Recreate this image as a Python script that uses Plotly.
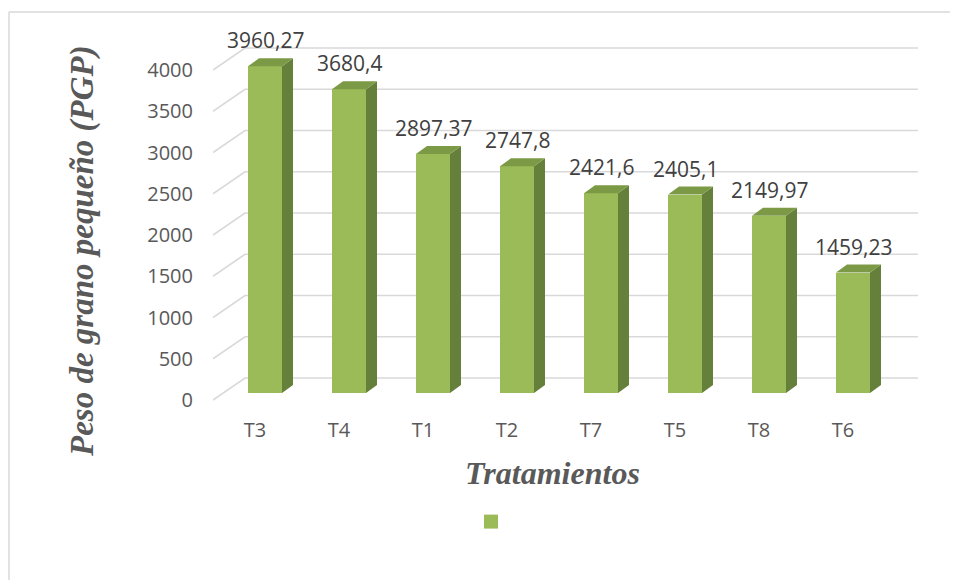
import plotly.graph_objects as go

# ---- data ----
categories = ["T3", "T4", "T1", "T2", "T7", "T5", "T8", "T6"]
values = [3960.27, 3680.4, 2897.37, 2747.8, 2421.6, 2405.1, 2149.97, 1459.23]
y_ticks = [0, 500, 1000, 1500, 2000, 2500, 3000, 3500, 4000]
y_title = "Peso de grano pequeño (PGP)"
x_title = "Tratamientos"

# ---- geometry (page-pixel targets; page body has an 8px margin) ----
OFF = 8
W, H = 958 - OFF, 580 - OFF          # figure fits the window without overflow
PL, PR, PT, PB = 213, 918, 44, 404   # plot area in page px
ZERO_PX = 400                        # page row of value 0 on front plane
PX = 84.0                            # px per category
PY = 330.0 / 4000.0                  # px per value unit

def dxu(p):
    return p / PX

def dyu(p):
    return p / PY

x_min = -0.5
x_max = x_min + dxu(PR - PL)
y_min = -dyu(PB - ZERO_PX)
y_max = dyu(ZERO_PX - PT)

def paper_x(p):
    return (p - PL) / (PR - PL)

def paper_y(p):
    return (PB - p) / (PB - PT)

FRONT = "#9BBB59"
SIDE = "#64803A"
TOP = "#7C9A46"
GRID = "#D9D9D9"
TXT = "#595959"

# 3D offsets
wall_dx, wall_dy = dxu(32), dyu(22)
bar_dx, bar_dy = dxu(10), dyu(7)
dep_dx, dep_dy = dxu(11), dyu(8)
hw = dxu(17)

fig = go.Figure()

# gridlines (shapes below traces)
shapes = []
for v in y_ticks:
    shapes.append(dict(
        type="path", xref="x", yref="y", layer="below",
        path=f"M {x_min},{v} L {x_min + wall_dx},{v + wall_dy} L {x_max},{v + wall_dy}",
        line=dict(color=GRID, width=1.6)))

# border of chart area (top and left edges visible)
shapes.append(dict(type="line", xref="paper", yref="paper",
                   x0=paper_x(9), x1=paper_x(1000), y0=paper_y(12), y1=paper_y(12),
                   line=dict(color=GRID, width=1.5), layer="below"))
shapes.append(dict(type="line", xref="paper", yref="paper",
                   x0=paper_x(9), x1=paper_x(9), y0=paper_y(12), y1=paper_y(620),
                   line=dict(color=GRID, width=1.5), layer="below"))

cx = [i + bar_dx for i in range(len(values))]
base = bar_dy

# front faces
fig.add_trace(go.Bar(x=cx, y=values, base=[base] * len(values), width=2 * hw,
                     marker=dict(color=FRONT, line=dict(width=0)),
                     name="", showlegend=False, hoverinfo="skip"))

# legend entry (series square)
fig.add_trace(go.Scatter(x=[None], y=[None], mode="markers", name="",
                         marker=dict(symbol="square", size=14, color=FRONT),
                         showlegend=True, hoverinfo="skip"))

# side faces and top faces
sx, sy, tx, ty = [], [], [], []
for c, v in zip(cx, values):
    y0, y1 = base, base + v
    sx += [c + hw, c + hw + dep_dx, c + hw + dep_dx, c + hw, c + hw, None]
    sy += [y0, y0 + dep_dy, y1 + dep_dy, y1, y0, None]
    tx += [c - hw, c + hw, c + hw + dep_dx, c - hw + dep_dx, c - hw, None]
    ty += [y1, y1, y1 + dep_dy, y1 + dep_dy, y1, None]

fig.add_trace(go.Scatter(x=sx, y=sy, mode="lines", fill="toself", fillcolor=SIDE,
                         line=dict(width=0, color=SIDE), showlegend=False, hoverinfo="skip"))
fig.add_trace(go.Scatter(x=tx, y=ty, mode="lines", fill="toself", fillcolor=TOP,
                         line=dict(width=0, color=TOP), showlegend=False, hoverinfo="skip"))

annotations = []
for c, v in zip(cx, values):
    annotations.append(dict(x=c, y=base + v, xref="x", yref="y", text=f"{v:g}".replace(".", ","),
                            showarrow=False, yanchor="middle", yshift=26,
                            font=dict(family="Open Sans", size=21, color="#404040")))

annotations.append(dict(x=paper_x(83), y=paper_y(251), xref="paper", yref="paper",
                        text=y_title, textangle=-90, showarrow=False,
                        xanchor="center", yanchor="middle",
                        font=dict(family="Liberation Serif", size=33, color=TXT,
                                  weight="bold", style="italic")))
annotations.append(dict(x=paper_x(552), y=paper_y(473), xref="paper", yref="paper",
                        text=x_title, showarrow=False,
                        xanchor="center", yanchor="middle",
                        font=dict(family="Liberation Serif", size=32, color=TXT,
                                  weight="bold", style="italic")))

fig.update_layout(
    width=W, height=H, autosize=False,
    margin=dict(l=PL - OFF, r=W - (PR - OFF), t=PT - OFF, b=H - (PB - OFF), pad=0),
    paper_bgcolor="white", plot_bgcolor="white",
    shapes=shapes, annotations=annotations,
    showlegend=True,
    legend=dict(orientation="h", x=paper_x(471), y=paper_y(506), xanchor="left", yanchor="top",
                bgcolor="rgba(0,0,0,0)", font=dict(size=14), itemsizing="trace"),
    bargap=0,
    xaxis=dict(range=[x_min, x_max], tickmode="array", tickvals=list(range(len(categories))),
               ticktext=categories, showgrid=False, zeroline=False, showline=False,
               ticks="outside", ticklen=8, tickcolor="rgba(0,0,0,0)",
               tickfont=dict(family="Open Sans", size=20, color=TXT), fixedrange=True),
    yaxis=dict(range=[y_min, y_max], tickmode="array", tickvals=y_ticks,
               ticktext=[str(t) for t in y_ticks], showgrid=False, zeroline=False,
               showline=False, ticks="outside", ticklen=15, tickcolor="rgba(0,0,0,0)",
               tickfont=dict(family="Open Sans", size=20, color=TXT), fixedrange=True),
)

fig.write_html("out.html")
